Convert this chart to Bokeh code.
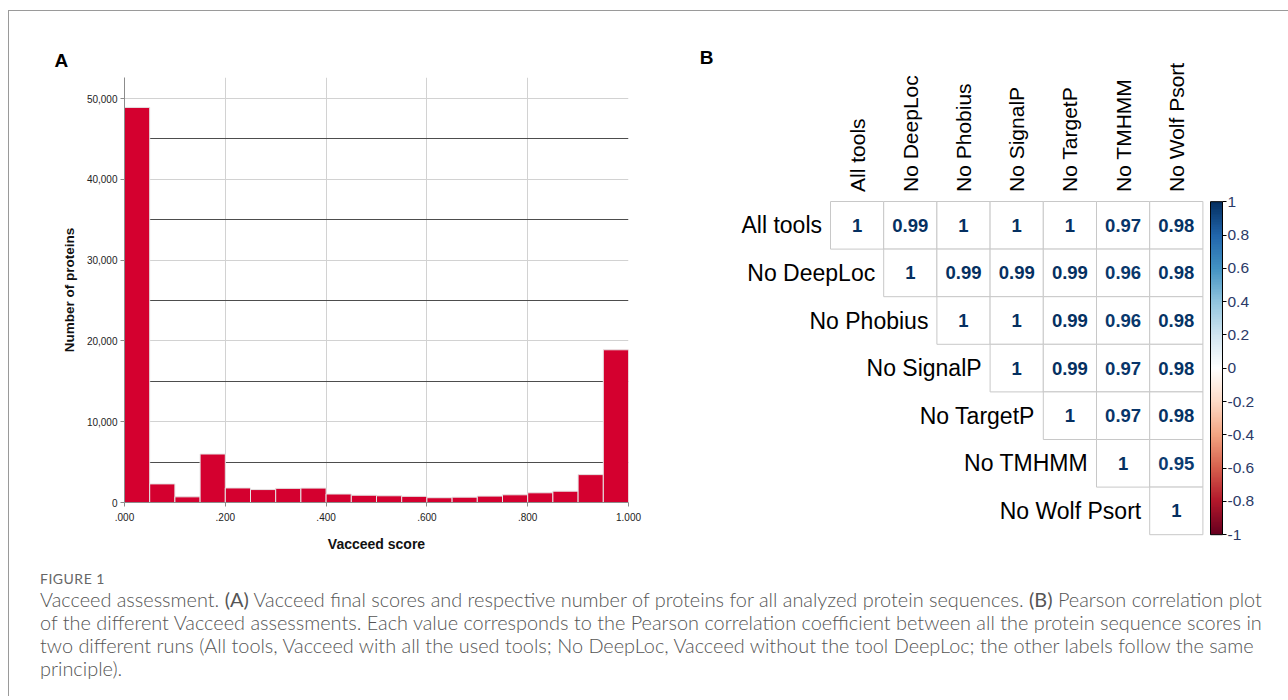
import numpy as np
from bokeh.plotting import figure
from bokeh.models import Range1d, ColumnDataSource, LinearColorMapper, ColorBar, FixedTicker, Label, Div
from bokeh.layouts import row, column
from bokeh.embed import file_html
from bokeh.resources import INLINE
from bokeh.core.properties import value
from bokeh.transform import linear_cmap

# ---------------- data ----------------
bin_left = [0.00, 0.05, 0.10, 0.15, 0.20, 0.25, 0.30, 0.35, 0.40, 0.45,
            0.50, 0.55, 0.60, 0.65, 0.70, 0.75, 0.80, 0.85, 0.90, 0.95]
bin_right = [0.05, 0.10, 0.15, 0.20, 0.25, 0.30, 0.35, 0.40, 0.45, 0.50,
             0.55, 0.60, 0.65, 0.70, 0.75, 0.80, 0.85, 0.90, 0.95, 1.00]
counts = [48900, 2300, 700, 6000, 1800, 1600, 1750, 1780, 1050, 900,
          830, 760, 590, 660, 790, 950, 1200, 1400, 3450, 18900]

x_ticks = [0.0, 0.2, 0.4, 0.6, 0.8, 1.0]
x_tick_labels = [".000", ".200", ".400", ".600", ".800", "1.000"]
y_ticks = [0, 10000, 20000, 30000, 40000, 50000]
y_tick_labels = ["0", "10,000", "20,000", "30,000", "40,000", "50,000"]
y_minor = [5000, 15000, 25000, 35000, 45000]

tools = ["All tools", "No DeepLoc", "No Phobius", "No SignalP", "No TargetP", "No TMHMM", "No Wolf Psort"]
corr_upper = [
    [1, 0.99, 1, 1, 1, 0.97, 0.98],
    [1, 0.99, 0.99, 0.99, 0.96, 0.98],
    [1, 1, 0.99, 0.96, 0.98],
    [1, 0.99, 0.97, 0.98],
    [1, 0.97, 0.98],
    [1, 0.95],
    [1],
]
cbar_ticks = [-1.0, -0.8, -0.6, -0.4, -0.2, 0.0, 0.2, 0.4, 0.6, 0.8, 1.0]
cbar_labels = ["-1", "-0.8", "-0.6", "-0.4", "-0.2", "0", "0.2", "0.4", "0.6", "0.8", "1"]

caption_lines = [
    'Vacceed assessment. <b>(A)</b> Vacceed final scores and respective number of proteins for all analyzed protein sequences. <b>(B)</b> Pearson correlation plot',
    'of the different Vacceed assessments. Each value corresponds to the Pearson correlation coefficient between all the protein sequence scores in',
    'two different runs (All tools, Vacceed with all the used tools; No DeepLoc, Vacceed without the tool DeepLoc; the other labels follow the same',
    'principle).',
]

FONT = "Liberation Sans"

# ---------------- panel A: histogram ----------------
H = 555
p1 = figure(width=680, height=H, x_range=Range1d(0, 1), y_range=Range1d(0, 52600),
            output_backend="svg", toolbar_location=None,
            min_border_left=115, min_border_right=61, min_border_top=66, min_border_bottom=64)
p1.frame_align = False
p1.outline_line_color = None
p1.background_fill_color = "white"

p1.quad(left=bin_left, right=bin_right, top=counts, bottom=0,
        fill_color="#d4002f", line_color="#e6e6e6", line_width=1)

p1.xaxis.ticker = FixedTicker(ticks=x_ticks)
p1.xaxis.major_label_overrides = {t: l for t, l in zip(x_ticks, x_tick_labels)}
p1.yaxis.ticker = FixedTicker(ticks=y_ticks, minor_ticks=y_minor)
p1.yaxis.major_label_overrides = {t: l for t, l in zip(y_ticks, y_tick_labels)}

for ax in (p1.xaxis[0], p1.yaxis[0]):
    ax.axis_line_color = "#8c8c8c"
    ax.major_tick_line_color = "#8c8c8c"
    ax.major_tick_out = 4
    ax.major_tick_in = 0
    ax.minor_tick_line_color = None
    ax.major_label_text_font = FONT
    ax.major_label_text_font_size = "10px"
    ax.major_label_text_color = "#222222"
    ax.axis_label_text_font = FONT
    ax.axis_label_text_font_style = "bold"
    ax.axis_label_text_color = "#111111"
p1.xaxis.axis_label = "Vacceed score"
p1.xaxis.axis_label_text_font_size = "14px"
p1.xaxis.major_label_standoff = 6
p1.xaxis.axis_label_standoff = 12
p1.yaxis.axis_label = "Number of proteins"
p1.yaxis.axis_label_text_font_size = "13.5px"
p1.yaxis.major_label_standoff = 3
p1.yaxis.axis_label_standoff = 7

p1.xgrid.ticker = FixedTicker(ticks=x_ticks)
p1.xgrid.grid_line_color = "#d2d2d2"
p1.ygrid.ticker = FixedTicker(ticks=y_ticks, minor_ticks=y_minor)
p1.ygrid.grid_line_color = "#d2d2d2"
p1.ygrid.minor_grid_line_color = "#4d4d4d"
p1.ygrid.minor_grid_line_width = 1

p1.title.text = "A"
p1.title.align = "left"
p1.title.offset = -70
p1.title.standoff = 14
p1.title.text_font = FONT
p1.title.text_font_style = "bold"
p1.title.text_font_size = "19px"
p1.title.text_color = "black"

# ---------------- panel B: correlation plot ----------------
W2 = 590
fig_left, fig_top = 689, 11
grid_left, grid_top = 830, 201
cw, rh = 53.2, 47.6
n = len(tools)
grid_bottom = grid_top + n * rh
x0 = (fig_left - grid_left) / cw
x1 = (fig_left + W2 - grid_left) / cw
y0 = (grid_bottom - (fig_top + H)) / rh
y1 = (grid_bottom - fig_top) / rh

p2 = figure(width=W2, height=H, x_range=Range1d(x0, x1), y_range=Range1d(y0, y1),
            output_backend="svg", toolbar_location=None,
            min_border_left=0, min_border_right=0, min_border_top=0, min_border_bottom=0)
p2.frame_align = False
p2.axis.visible = False
p2.grid.visible = False
p2.outline_line_color = None

cx, cy, vals, txt = [], [], [], []
for i, rowvals in enumerate(corr_upper):
    for k, v in enumerate(rowvals):
        j = i + k
        cx.append(j + 0.5)
        cy.append(n - 1 - i + 0.5)
        vals.append(v)
        txt.append("{:g}".format(v))
src = ColumnDataSource(dict(x=cx, y=cy, v=vals, t=txt))

anchors = ["#67001F", "#B2182B", "#D6604D", "#F4A582", "#FDDBC7", "#FFFFFF",
           "#D1E5F0", "#92C5DE", "#4393C3", "#2166AC", "#053061"]
rgb = np.array([[int(c[k:k + 2], 16) for k in (1, 3, 5)] for c in anchors], float)
pos = np.linspace(0, 1, len(anchors))
palette = []
for tt in np.linspace(0, 1, 200):
    r, g, b = (int(round(np.interp(tt, pos, rgb[:, m]))) for m in range(3))
    palette.append("#%02x%02x%02x" % (r, g, b))
mapper = LinearColorMapper(palette=palette, low=-1, high=1)

p2.rect(x="x", y="y", width=1, height=1, source=src, fill_color="white",
        line_color="#c8c8c8", line_width=1)
p2.text(x="x", y="y", text="t", source=src, text_align="center", text_baseline="middle",
        text_font=value(FONT), text_font_style="bold", text_font_size="18.5px",
        text_color=linear_cmap("v", palette, -1, 1))

rl_src = ColumnDataSource(dict(x=[i - 0.16 for i in range(n)],
                               y=[n - 1 - i + 0.5 for i in range(n)], t=tools))
p2.text(x="x", y="y", text="t", source=rl_src, text_align="right", text_baseline="middle",
        text_font=value(FONT), text_font_size="23px", text_color="black")
cl_src = ColumnDataSource(dict(x=[j + 0.5 for j in range(n)], y=[n + 0.2] * n, t=tools))
p2.text(x="x", y="y", text="t", source=cl_src, angle=np.pi / 2, text_align="left",
        text_baseline="middle", text_font=value(FONT), text_font_size="21px",
        text_color="black")

p2.add_layout(Label(x=(706 - grid_left) / cw, y=(grid_bottom - 57) / rh, text="B",
                    text_font=FONT, text_font_style="bold", text_font_size="19px",
                    text_color="black", text_align="center", text_baseline="middle"))

cb = ColorBar(color_mapper=mapper, ticker=FixedTicker(ticks=cbar_ticks),
              major_label_overrides={t: l for t, l in zip(cbar_ticks, cbar_labels)},
              width=12, height=int(round(n * rh)), padding=0, margin=0,
              location=(1210 - fig_left, (fig_top + H) - grid_bottom),
              bar_line_color="black", bar_line_width=1,
              major_tick_line_color="black", major_tick_in=0, major_tick_out=4,
              label_standoff=1, major_label_text_font=FONT,
              major_label_text_font_size="15.5px", major_label_text_color="#2b3a67",
              background_fill_color=None, border_line_color=None)
p2.add_layout(cb, "center")

# ---------------- caption ----------------
cap_html = (
    '<div style="font-family:Lato; font-weight:400; font-size:14px; color:#666; '
    'letter-spacing:0.5px; line-height:16px; margin:0 0 0 26px;">FIGURE 1</div>'
    '<div style="font-family:Lato; font-weight:300; font-size:19.9px; color:#555; '
    'line-height:23px; white-space:nowrap; margin:1px 0 0 26px;">'
    + "<br>".join(caption_lines) + '</div>'
)
cap = Div(text=cap_html, width=1270, height=120)

layout = column(row(p1, p2), cap,
                styles={"border": "1px solid #9a9a9a", "border-bottom": "none",
                        "margin": "10px 0 0 8px"})

open("out.html", "w").write(file_html(layout, INLINE))
